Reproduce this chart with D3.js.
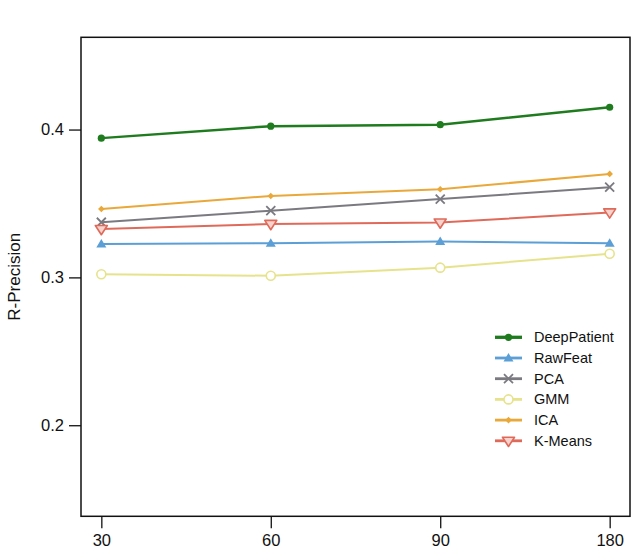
<!DOCTYPE html>
<html><head><meta charset="utf-8">
<script src="https://cdn.jsdelivr.net/npm/d3@7"></script>
<style>body{margin:0;background:#fff}svg{display:block}text{font-family:"Liberation Sans",Arial,sans-serif;fill:#111}</style>
</head><body>
<script>
const categories = ["30", "60", "90", "180"];
const seriesNames = ["DeepPatient", "RawFeat", "PCA", "GMM", "ICA", "K-Means"];
const deepPatient = [0.3942, 0.4023, 0.4033, 0.4151];
const rawFeat = [0.3226, 0.3231, 0.3242, 0.3231];
const pca = [0.3373, 0.3451, 0.3530, 0.3610];
const gmm = [0.3021, 0.3011, 0.3066, 0.3160];
const ica = [0.3463, 0.3551, 0.3596, 0.3700];
const kmeans = [0.3327, 0.3361, 0.3371, 0.3439];
const yTicks = [0.2, 0.3, 0.4];

const W = 640, H = 556;
const box = {l: 81, r: 630, t: 37.3, b: 516.3};
const svg = d3.select("body").append("svg").attr("width", W).attr("height", H);

const x = d3.scalePoint().domain(categories).range([box.l, box.r]).padding(0.12);
const y = d3.scaleLinear().domain([0.1384, 0.4624]).range([box.b, box.t]);

const series = [
  {name: seriesNames[0], values: deepPatient, color: "#1e7b1e", width: 2.5, marker: "dot"},
  {name: seriesNames[1], values: rawFeat, color: "#5b9fd6", width: 2, marker: "tri"},
  {name: seriesNames[2], values: pca, color: "#7a7a80", width: 2, marker: "x"},
  {name: seriesNames[3], values: gmm, color: "#e6e38c", width: 2, marker: "ocircle"},
  {name: seriesNames[4], values: ica, color: "#e9a83a", width: 2, marker: "diamond"},
  {name: seriesNames[5], values: kmeans, color: "#df6a5a", width: 2, marker: "dtri"}
];

function drawMarker(g, s, cx, cy) {
  const c = s.color;
  if (s.marker === "dot") {
    g.append("circle").attr("cx", cx).attr("cy", cy).attr("r", 3.6).attr("fill", c);
  } else if (s.marker === "tri") {
    const r = 5;
    g.append("path").attr("d", `M${cx},${cy - r}L${cx + r},${cy + r * 0.7}L${cx - r},${cy + r * 0.7}Z`).attr("fill", c);
  } else if (s.marker === "x") {
    const r = 4.5;
    g.append("path").attr("d", `M${cx - r},${cy - r}L${cx + r},${cy + r}M${cx - r},${cy + r}L${cx + r},${cy - r}`)
      .attr("stroke", c).attr("stroke-width", 1.8).attr("fill", "none");
  } else if (s.marker === "ocircle") {
    g.append("circle").attr("cx", cx).attr("cy", cy).attr("r", 4.5).attr("fill", "#fff").attr("stroke", c).attr("stroke-width", 1.6);
  } else if (s.marker === "diamond") {
    const r = 3.3;
    g.append("path").attr("d", `M${cx},${cy - r}L${cx + r},${cy}L${cx},${cy + r}L${cx - r},${cy}Z`).attr("fill", c);
  } else if (s.marker === "dtri") {
    const r = 6;
    g.append("path").attr("d", `M${cx - r},${cy - r * 0.6}L${cx + r},${cy - r * 0.6}L${cx},${cy + r * 0.95}Z`)
      .attr("fill", "#f6d3cc").attr("stroke", c).attr("stroke-width", 1.6).attr("stroke-linejoin", "round");
  }
}

const line = d3.line().x((d, i) => x(categories[i])).y(d => y(d));
const plot = svg.append("g");
series.forEach(s => {
  plot.append("path").datum(s.values).attr("d", line).attr("fill", "none")
    .attr("stroke", s.color).attr("stroke-width", s.width);
});
series.forEach(s => {
  const g = plot.append("g");
  s.values.forEach((v, i) => drawMarker(g, s, x(categories[i]), y(v)));
});

// frame
svg.append("rect").attr("x", box.l).attr("y", box.t).attr("width", box.r - box.l).attr("height", box.b - box.t)
  .attr("fill", "none").attr("stroke", "#111").attr("stroke-width", 1.5);

// axes
const yAxis = svg.append("g").attr("transform", `translate(${box.l},0)`)
  .call(d3.axisLeft(y).tickValues(yTicks).tickFormat(d3.format(".1f")).tickSize(12).tickPadding(5));
yAxis.select(".domain").remove();
const xAxis = svg.append("g").attr("transform", `translate(0,${box.b})`)
  .call(d3.axisBottom(x).tickSize(12).tickPadding(6));
xAxis.select(".domain").remove();
svg.selectAll(".tick line").attr("stroke", "#111").attr("stroke-width", 1.3);
svg.selectAll(".tick text").attr("font-size", 16.5).attr("font-family", "Liberation Sans, Arial, sans-serif").attr("fill", "#111");

svg.append("text").attr("transform", `translate(20,${(box.t + box.b) / 2}) rotate(-90)`)
  .attr("text-anchor", "middle").attr("font-size", 17).text("R-Precision");

// legend
const leg = svg.append("g");
series.forEach((s, i) => {
  const ly = 337.3 + i * 20.7;
  leg.append("line").attr("x1", 495).attr("x2", 522).attr("y1", ly).attr("y2", ly)
    .attr("stroke", s.color).attr("stroke-width", s.width + 0.8);
  drawMarker(leg, s, 508.5, ly);
  leg.append("text").attr("x", 534).attr("y", ly).attr("dy", "0.35em").attr("font-size", 14.5).text(s.name);
});
</script>
</body></html>
